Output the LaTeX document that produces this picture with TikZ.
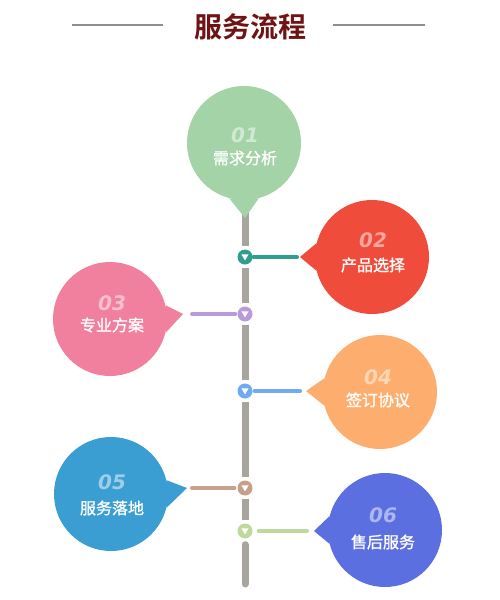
\documentclass[tikz,border=0pt]{standalone}
\usepackage{fontspec}
\newfontfamily\cjk{Noto Sans CJK SC}[BoldFont={Noto Sans CJK SC Bold}]
\newfontfamily\cjkmed{Noto Sans CJK SC}[FakeBold=1.2]
\newfontfamily\numfont{DejaVu Sans}
\usepackage{xcolor}
\usetikzlibrary{positioning}

\definecolor{titlered}{HTML}{6E1414}
\definecolor{rulegray}{HTML}{8E8E8E}
\definecolor{stemgray}{HTML}{A8A59F}
\definecolor{bgreen}{HTML}{A3D3A6}
\definecolor{bred}{HTML}{F04C3B}
\definecolor{bpink}{HTML}{F0809E}
\definecolor{borange}{HTML}{FDAE6E}
\definecolor{bblue}{HTML}{3A9ED2}
\definecolor{bindigo}{HTML}{5B6FE0}
\definecolor{mteal}{HTML}{2F9E8F}
\definecolor{mpurple}{HTML}{B99BDB}
\definecolor{mblue}{HTML}{6FAAF2}
\definecolor{mtan}{HTML}{C8A08A}
\definecolor{mlime}{HTML}{BFD99C}

\begin{document}
\begin{tikzpicture}[
x=1pt, y=-1pt,
bubble/.style={circle, minimum size=114pt, inner sep=0pt, fill=#1},
marker/.style={circle, minimum size=15pt, inner sep=0pt, fill=#1,
    path picture={\fill[white] ([xshift=-3.6pt,yshift=2.6pt]path picture bounding box.center)
        -- ++(7.2pt,0pt) -- ++(-3.6pt,-6pt) -- cycle;}},
num/.style={inner sep=0pt, text=white, text opacity=0.5,
    font=\numfont\bfseries\itshape\fontsize{20}{20}\selectfont},
lbl/.style={inner sep=0pt, text=white, font=\cjkmed\fontsize{16}{16}\selectfont},
stem/.style={draw=stemgray, line width=7pt},
link/.style={draw=#1, line width=4pt, line cap=round},
titlerule/.style={draw=rulegray, line width=1.5pt}
]

\fill[white] (0,0) rectangle (500,600);
\useasboundingbox (0,0) rectangle (500,600);

% title
\node (title) [inner sep=0pt, text=titlered, font=\cjk\bfseries\fontsize{28}{28}\selectfont] at (250,27) {服务流程};
\coordinate (rl1) at (72,25);
\coordinate (rl2) at (163,25);
\coordinate (rr1) at (333,25);
\coordinate (rr2) at (425,25);
\draw[titlerule] (rl1) -- (rl2);
\draw[titlerule] (rr1) -- (rr2);

% tail tips
\coordinate (t1) at (245,218);
\coordinate (t2) at (300,257);
\coordinate (t3) at (183,314);
\coordinate (t4) at (306,391);
\coordinate (t5) at (187,488);
\coordinate (t6) at (314,531);
\coordinate (stemtop) at (245,205);
\coordinate (stemend) at (245,584);

% markers
\node (m2) [marker=mteal] at (245,257) {};
\node (m3) [marker=mpurple] at (245,314) {};
\node (m4) [marker=mblue] at (245,391) {};
\node (m5) [marker=mtan] at (245,488) {};
\node (m6) [marker=mlime] at (245,531) {};

% stem
\draw[stem, shorten >=3pt] (stemtop) -- (m2.north);
\draw[stem, shorten <=3pt, shorten >=3pt] (m2.south) -- (m3.north);
\draw[stem, shorten <=3pt, shorten >=3pt] (m3.south) -- (m4.north);
\draw[stem, shorten <=3pt, shorten >=3pt] (m4.south) -- (m5.north);
\draw[stem, shorten <=3pt, shorten >=3pt] (m5.south) -- (m6.north);
\draw[stem, line cap=round, shorten <=6pt] (m6.south) -- (stemend);

% links
\draw[link=mteal, shorten <=1pt, shorten >=3pt] (m2.east) -- (t2);
\draw[link=mpurple, shorten <=2pt, shorten >=9pt] (m3.west) -- (t3);
\draw[link=mblue, shorten <=2pt, shorten >=6pt] (m4.east) -- (t4);
\draw[link=mtan, shorten <=3pt, shorten >=5pt] (m5.west) -- (t5);
\draw[link=mlime, shorten <=6pt, shorten >=7pt] (m6.east) -- (t6);

% bubbles
\node (b1) [bubble=bgreen] at (244,143) {};
\fill[bgreen] (b1.255) -- (t1) -- (b1.285) -- cycle;
\node (b2) [bubble=bred] at (372,257) {};
\fill[bred] (b2.166) -- (t2) -- (b2.194) -- cycle;
\node (b3) [bubble=bpink] at (110,319) {};
\fill[bpink] (b3.-14) -- (t3) -- (b3.14) -- cycle;
\node (b4) [bubble=borange] at (380,392) {};
\fill[borange] (b4.166) -- (t4) -- (b4.194) -- cycle;
\node (b5) [bubble=bblue] at (111,494) {};
\fill[bblue] (b5.-14) -- (t5) -- (b5.14) -- cycle;
\node (b6) [bubble=bindigo] at (385,530) {};
\fill[bindigo] (b6.166) -- (t6) -- (b6.194) -- cycle;

% texts
\node (n1) [num] at (245,135) {01};
\node (l1) [lbl] at (245,158) {需求分析};
\node (n2) [num] at (373,240) {02};
\node (l2) [lbl] at (373,265) {产品选择};
\node (n3) [num] at (112,303) {03};
\node (l3) [lbl] at (112,325) {专业方案};
\node (n4) [num] at (378,377) {04};
\node (l4) [lbl] at (378,400) {签订协议};
\node (n5) [num] at (112,482) {05};
\node (l5) [lbl] at (112,508) {服务落地};
\node (n6) [num] at (383,515) {06};
\node (l6) [lbl] at (383,542) {售后服务};

\end{tikzpicture}
\end{document}
